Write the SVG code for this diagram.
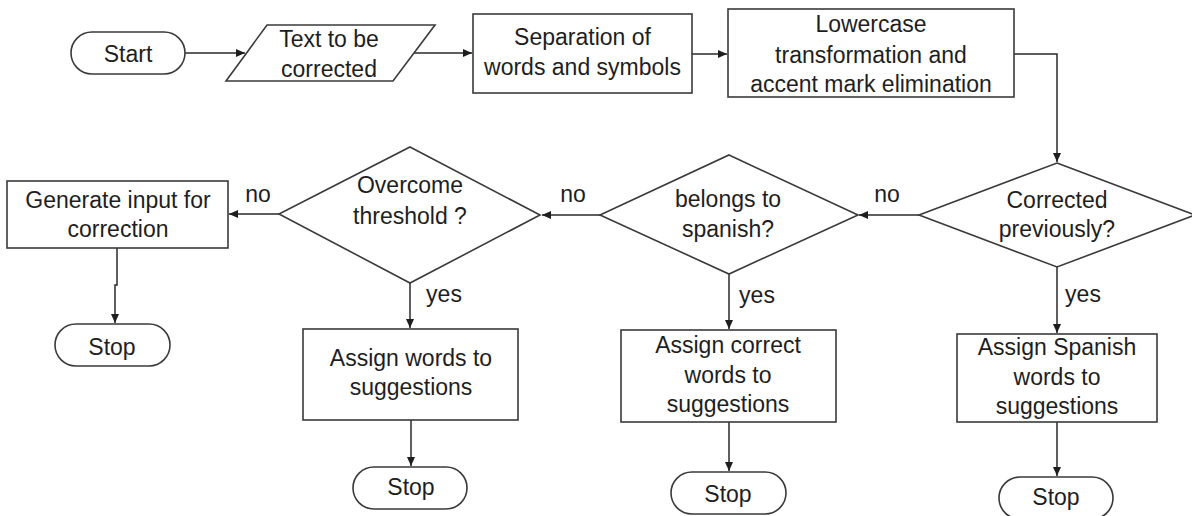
<svg xmlns="http://www.w3.org/2000/svg" width="1192" height="516" viewBox="0 0 1192 516">
<style>
.s{fill:#fff;stroke:#3a3a3a;stroke-width:1.6}
.t{font-family:"Liberation Sans",Arial,sans-serif;font-size:23px;fill:#1e1e1e;text-anchor:middle}
.c{fill:none;stroke:#2a2a2a;stroke-width:1.5}
</style>
<defs>
<marker id="ah" markerUnits="userSpaceOnUse" markerWidth="10" markerHeight="8" refX="9" refY="4" orient="auto">
<path d="M0,0 L9,4 L0,8 Z" fill="#1e1e1e"/>
</marker>
</defs>
<rect width="1192" height="516" fill="#fff"/>
<g id="connectors">
<path class="c" d="M185,53 H245" marker-end="url(#ah)"/>
<path class="c" d="M414,53 H472" marker-end="url(#ah)"/>
<path class="c" d="M692,54 H727" marker-end="url(#ah)"/>
<path class="c" d="M1014,54 H1057 V162" marker-end="url(#ah)"/>
<path class="c" d="M919,215 H859" marker-end="url(#ah)"/>
<path class="c" d="M600,215 H542" marker-end="url(#ah)"/>
<path class="c" d="M279,214 H229" marker-end="url(#ah)"/>
<path class="c" d="M117,248 V285 H115 V323" marker-end="url(#ah)"/>
<path class="c" d="M410,283 V328" marker-end="url(#ah)"/>
<path class="c" d="M411,420 V466" marker-end="url(#ah)"/>
<path class="c" d="M729,274 V329" marker-end="url(#ah)"/>
<path class="c" d="M729,422 V471" marker-end="url(#ah)"/>
<path class="c" d="M1057,267 V333" marker-end="url(#ah)"/>
<path class="c" d="M1057,422 V476" marker-end="url(#ah)"/>
<text class="t" x="887" y="202">no</text>
<text class="t" x="573" y="202">no</text>
<text class="t" x="258" y="202">no</text>
<text class="t" x="444" y="302">yes</text>
<text class="t" x="757" y="303">yes</text>
<text class="t" x="1083" y="302">yes</text>
</g>
<g id="start">
<rect class="s" x="71" y="32" width="114" height="42" rx="21"/>
<text class="t" x="128" y="62">Start</text>
</g>
<g id="input">
<polygon class="s" points="267,25 435,25 393,81 226,81"/>
<text class="t" x="329" y="47">Text to be</text>
<text class="t" x="329" y="77">corrected</text>
</g>
<g id="separation">
<rect class="s" x="473" y="14" width="219" height="79"/>
<text class="t" x="582.5" y="45">Separation of</text>
<text class="t" x="582.5" y="75">words and symbols</text>
</g>
<g id="lowercase">
<rect class="s" x="728" y="9" width="286" height="88"/>
<text class="t" x="871" y="32">Lowercase</text>
<text class="t" x="871" y="63">transformation and</text>
<text class="t" x="871" y="92">accent mark elimination</text>
</g>
<g id="corrected">
<polygon class="s" points="1057,163 1195,215 1057,267 919,215"/>
<text class="t" x="1057" y="208">Corrected</text>
<text class="t" x="1057" y="237">previously?</text>
</g>
<g id="belongs">
<polygon class="s" points="729,155 858,215 729,274 600,215"/>
<text class="t" x="728" y="207">belongs to</text>
<text class="t" x="728" y="237">spanish?</text>
</g>
<g id="overcome">
<polygon class="s" points="410,147 540,215 410,283 279,214"/>
<text class="t" x="410" y="193">Overcome</text>
<text class="t" x="410" y="224">threshold ?</text>
</g>
<g id="generate">
<rect class="s" x="7" y="181" width="221" height="67"/>
<text class="t" x="118" y="208">Generate input for</text>
<text class="t" x="118" y="237">correction</text>
</g>
<g id="stop1">
<rect class="s" x="55" y="324" width="115" height="42" rx="21"/>
<text class="t" x="112" y="355">Stop</text>
</g>
<g id="assign-words">
<rect class="s" x="303" y="329" width="215" height="91"/>
<text class="t" x="411" y="366">Assign words to</text>
<text class="t" x="411" y="395">suggestions</text>
</g>
<g id="stop2">
<rect class="s" x="353" y="467" width="114" height="42" rx="21"/>
<text class="t" x="411" y="495">Stop</text>
</g>
<g id="assign-correct">
<rect class="s" x="621" y="330" width="215" height="92"/>
<text class="t" x="728" y="353">Assign correct</text>
<text class="t" x="728" y="383">words to</text>
<text class="t" x="728" y="412">suggestions</text>
</g>
<g id="stop3">
<rect class="s" x="671" y="472" width="115" height="42" rx="21"/>
<text class="t" x="728" y="502">Stop</text>
</g>
<g id="assign-spanish">
<rect class="s" x="957" y="334" width="200" height="88"/>
<text class="t" x="1057" y="355">Assign Spanish</text>
<text class="t" x="1057" y="385">words to</text>
<text class="t" x="1057" y="414">suggestions</text>
</g>
<g id="stop4">
<rect class="s" x="999" y="477" width="114" height="42" rx="21"/>
<text class="t" x="1056" y="505">Stop</text>
</g>
</svg>
